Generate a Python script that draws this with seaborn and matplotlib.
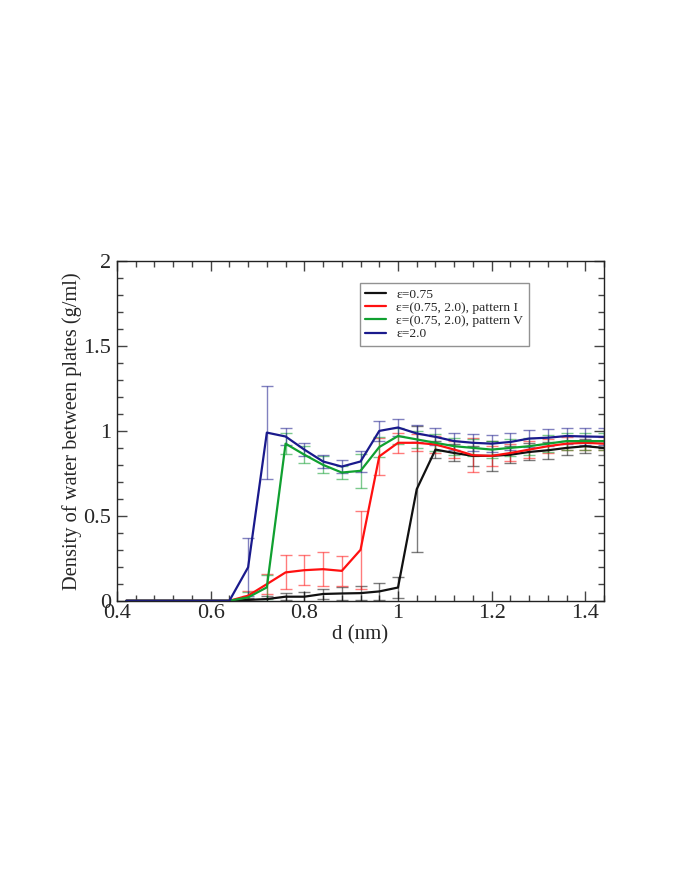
import numpy as np
import pandas as pd
import matplotlib
matplotlib.use("Agg")
import matplotlib.pyplot as plt
import seaborn as sns
from matplotlib.ticker import MultipleLocator, FormatStrFormatter

# -----------------------------
# data
# -----------------------------
d = [0.42, 0.48, 0.52, 0.56, 0.60, 0.64, 0.68, 0.72, 0.76, 0.80, 0.84, 0.88,
     0.92, 0.96, 1.00, 1.04, 1.08, 1.12, 1.16, 1.20, 1.24, 1.28, 1.32, 1.36,
     1.40, 1.44]

rho_075 = [0, 0, 0, 0, 0, 0, 0.005, 0.01, 0.024, 0.024, 0.04, 0.043,
           0.045, 0.055, 0.078, 0.657, 0.89, 0.87, 0.853, 0.853, 0.86, 0.876,
           0.886, 0.90, 0.91, 0.90]
err_075 = [0, 0, 0, 0, 0, 0, 0.01, 0.02, 0.02, 0.03, 0.03, 0.04,
           0.04, 0.05, 0.06, 0.37, 0.05, 0.05, 0.06, 0.09, 0.05, 0.05,
           0.05, 0.04, 0.04, 0.04]

rho_I = [0, 0, 0, 0, 0, 0, 0.03, 0.098, 0.167, 0.18, 0.186, 0.176,
         0.30, 0.85, 0.93, 0.93, 0.92, 0.89, 0.857, 0.853, 0.87, 0.89,
         0.91, 0.925, 0.93, 0.925]
err_I = [0, 0, 0, 0, 0, 0, 0.03, 0.06, 0.10, 0.09, 0.10, 0.09,
         0.23, 0.11, 0.06, 0.05, 0.05, 0.05, 0.10, 0.06, 0.05, 0.05,
         0.04, 0.04, 0.04, 0.04]

rho_V = [0, 0, 0, 0, 0, 0, 0.02, 0.079, 0.925, 0.86, 0.80, 0.755,
         0.765, 0.905, 0.97, 0.95, 0.93, 0.91, 0.90, 0.89, 0.90, 0.91,
         0.925, 0.94, 0.94, 0.94]
err_V = [0, 0, 0, 0, 0, 0, 0.03, 0.07, 0.06, 0.05, 0.05, 0.04,
         0.10, 0.06, 0.05, 0.05, 0.05, 0.05, 0.05, 0.05, 0.05, 0.05,
         0.05, 0.05, 0.05, 0.05]

rho_20 = [0, 0, 0, 0, 0, 0, 0.197, 0.99, 0.967, 0.89, 0.82, 0.79,
          0.82, 1.0, 1.02, 0.985, 0.965, 0.94, 0.93, 0.925, 0.935, 0.955,
          0.96, 0.97, 0.967, 0.965]
err_20 = [0, 0, 0, 0, 0, 0, 0.17, 0.275, 0.05, 0.04, 0.04, 0.04,
          0.06, 0.06, 0.05, 0.05, 0.05, 0.05, 0.05, 0.05, 0.05, 0.05,
          0.05, 0.05, 0.05, 0.05]

labels = ["ε=0.75", "ε=(0.75, 2.0), pattern I", "ε=(0.75, 2.0), pattern V", "ε=2.0"]
colors = ["#111111", "#ff1010", "#10a030", "#1a1a8c"]

series = [(rho_075, err_075), (rho_I, err_I), (rho_V, err_V), (rho_20, err_20)]
frames = []
for lab, (rho, err) in zip(labels, series):
    frames.append(pd.DataFrame({"d": d, "rho": rho, "err": err, "case": lab}))
df = pd.concat(frames, ignore_index=True)

# -----------------------------
# plot
# -----------------------------
sns.set_style("ticks")
plt.rcParams["font.family"] = ["Liberation Serif", "DejaVu Serif"]

fig = plt.figure(figsize=(6.92, 8.94), dpi=100)
ax = fig.add_axes([0.169, 0.328, 0.704, 0.380])

for lab, col in zip(labels, colors):
    sub = df[df["case"] == lab]
    m = sub["d"] >= 0.64
    ax.errorbar(sub["d"][m], sub["rho"][m], yerr=sub["err"][m], fmt="none",
                ecolor=col, alpha=0.55, elinewidth=1.0, capsize=4, capthick=1.0)

sns.lineplot(data=df, x="d", y="rho", hue="case", palette=colors,
             hue_order=labels, linewidth=1.6, ax=ax, sort=False, errorbar=None)

ax.set_xlim(0.4, 1.44)
ax.set_ylim(0, 2)
ax.xaxis.set_major_locator(MultipleLocator(0.2))
ax.xaxis.set_minor_locator(MultipleLocator(0.04))
ax.yaxis.set_major_locator(MultipleLocator(0.5))
ax.yaxis.set_minor_locator(MultipleLocator(0.1))
ax.xaxis.set_major_formatter(FormatStrFormatter("%g"))
ax.yaxis.set_major_formatter(FormatStrFormatter("%g"))
ax.tick_params(which="both", direction="in", top=True, right=True, color="#444444")
ax.tick_params(which="major", length=7, width=1, labelsize=16, pad=2)
ax.tick_params(axis="y", which="major", pad=4)
ax.tick_params(which="minor", length=4, width=1)
for s in ax.spines.values():
    s.set_color("#222222")
    s.set_linewidth(1.0)

ax.set_xlabel("d (nm)", fontsize=15, labelpad=2)
ax.set_ylabel("Density of water between plates (g/ml)", fontsize=14.7, labelpad=1)

leg = ax.legend(loc="upper left", bbox_to_anchor=(0.499, 0.935), fontsize=9.7,
                frameon=True, fancybox=False, edgecolor="#777777",
                handlelength=1.5, handletextpad=0.8, borderpad=0.4,
                borderaxespad=0, labelspacing=0.05, title=None)
leg.get_frame().set_linewidth(1.0)
for line in leg.get_lines():
    line.set_linewidth(1.6)

fig.savefig("out.png", dpi=100)
